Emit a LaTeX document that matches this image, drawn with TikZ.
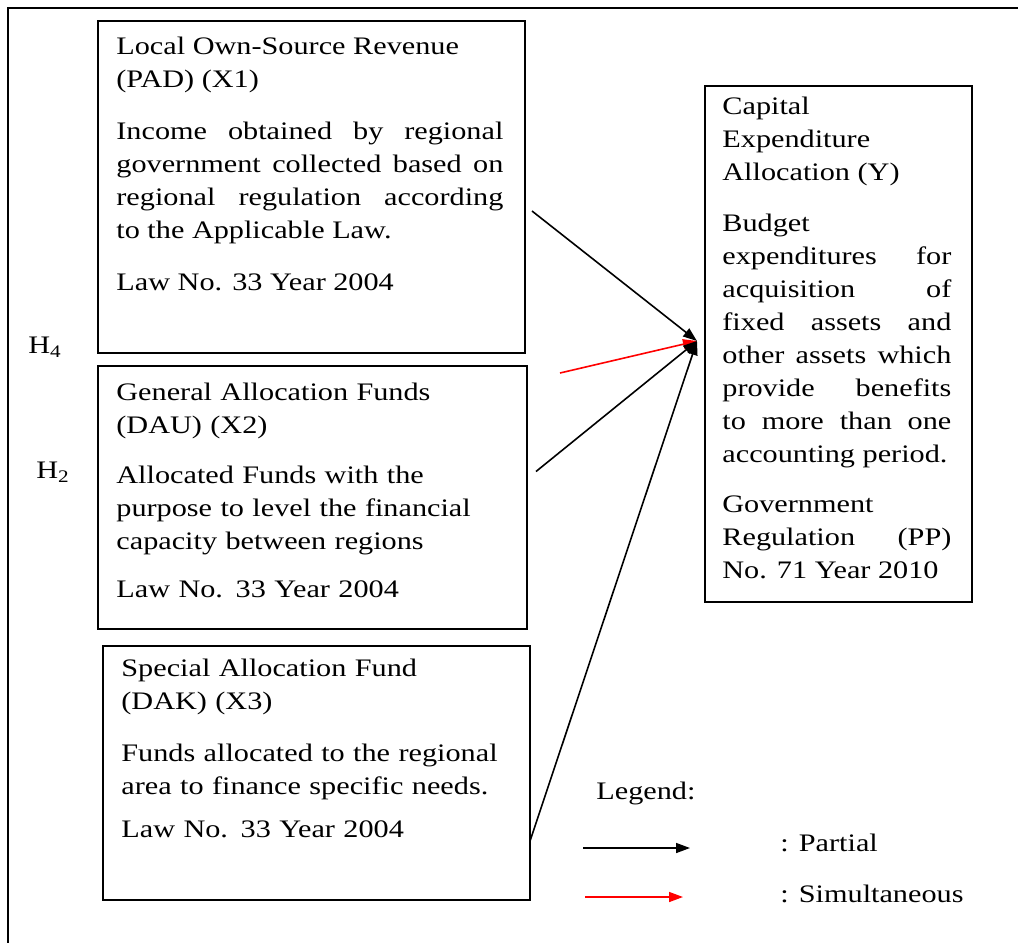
\documentclass[tikz,border=0pt]{standalone}
\usepackage{fontspec}
\setmainfont{Liberation Serif}[FakeStretch=1.2]
\usetikzlibrary{arrows.meta,positioning}
\setlength{\parindent}{0pt}
\newcommand{\pxu}{0.5pt}
\newcommand{\gap}[1]{\par\vspace{#1}}

\tikzset{
  box/.style={draw, line width=1pt, anchor=north west, inner sep=0pt},
  boxtext/.style={anchor=north west, inner sep=0pt, align=justify,
    font=\fontsize{12.6}{16.5}\selectfont},
  lbl/.style={inner sep=0pt, font=\fontsize{12.6}{16.5}\selectfont},
  partial/.style={-{Triangle[length=7pt,width=5pt]}, line width=0.8pt},
  simultaneous/.style={partial, red},
}

\begin{document}
\begin{tikzpicture}[x=0.5pt,y=-0.5pt]
      \useasboundingbox (0,0) rectangle (1018,943);
      \draw[line width=1pt] (1018,8) -- (8,8) -- (8,943);

      % boxes
      \node[box, minimum width=427*\pxu, minimum height=332*\pxu] (pad) at (97,20) {};
      \node[box, minimum width=429*\pxu, minimum height=263*\pxu] (dau) at (97,365) {};
      \node[box, minimum width=427*\pxu, minimum height=254*\pxu] (dak) at (102,645) {};
      \node[box, minimum width=267*\pxu, minimum height=516*\pxu] (cap) at (704,85) {};

      \node[boxtext, text width=387*\pxu] (padtext) at ([shift={(19,17)}]pad.north west)
        {Local Own-Source Revenue\\ (PAD) (X1)\gap{9.5pt}
         Income obtained by regional\linebreak government collected based on\linebreak
         regional regulation according\linebreak to the Applicable Law.\gap{9.5pt}
         Law No. 33 Year 2004};
      \node[boxtext, text width=400*\pxu, align=left] (dautext) at ([shift={(19,18)}]dau.north west)
        {General Allocation Funds\\ (DAU) (X2)\gap{8.5pt}
         Allocated Funds with the\\ purpose to level the financial\\
         capacity between regions\gap{7.5pt}
         Law No. 33 Year 2004};
      \node[boxtext, text width=387*\pxu, align=left] (daktext) at ([shift={(19,14)}]dak.north west)
        {Special Allocation Fund\\ (DAK) (X3)\gap{9.5pt}
         Funds allocated to the regional\\ area to finance specific needs.\gap{5pt}
         Law No. 33 Year 2004};
      \node[boxtext, text width=229*\pxu] (captext) at ([shift={(18,11.5)}]cap.north west)
        {Capital\\ Expenditure\\ Allocation (Y)\gap{9pt}
         Budget\\ expenditures for\linebreak acquisition of\linebreak
         fixed assets and\linebreak other assets which\linebreak provide benefits\linebreak
         to more than one\linebreak accounting period.\gap{8.5pt}
         Government\\ Regulation (PP)\linebreak No. 71 Year 2010};

      \node[lbl] (h4) at (45,347) {H\textsubscript{4}};
      \node[lbl] (h2) at (53,472) {H\textsubscript{2}};

      % connectors
      \coordinate (capin) at ([shift={(-7,-3)}]cap.west);
      \coordinate (padout) at ([shift={(6,24)}]pad.east);
      \coordinate (simout) at ([shift={(32,8)}]dau.north east);
      \coordinate (dauout) at ([shift={(8,-26)}]dau.east);
      \coordinate (dakout) at ([shift={(-1,68)}]dak.east);

      \draw[partial] (padout) -- (capin);
      \draw[simultaneous] (simout) -- (capin);
      \draw[partial] (dauout) -- (capin);
      \draw[partial] (dakout) -- (capin);

      % legend
      \node[lbl, anchor=west] (legend) at (596,793) {Legend:};
      \node[lbl, anchor=west] (partlbl) at (780,843) {: Partial};
      \node[lbl, anchor=west] (simlbl) at (780,894) {: Simultaneous};
      \coordinate (partA) at (583,848);
      \coordinate (partB) at (690,848);
      \coordinate (simA) at (585,897);
      \coordinate (simB) at (683,897);
      \draw[partial] (partA) -- (partB);
      \draw[simultaneous] (simA) -- (simB);
\end{tikzpicture}
\end{document}
